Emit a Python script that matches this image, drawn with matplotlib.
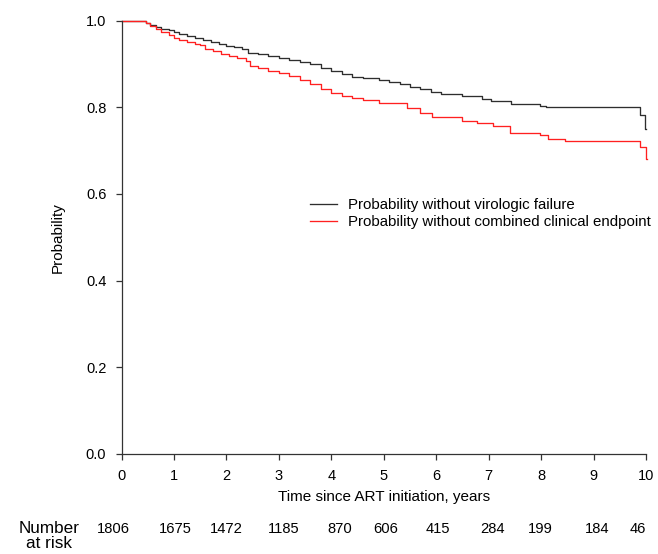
import matplotlib
matplotlib.use("Agg")
import matplotlib.pyplot as plt

plt.rcParams['font.family'] = ['Liberation Sans', 'DejaVu Sans']

# Kaplan-Meier curves (time in years, probability)
vf_time = [0, 0.46, 0.55, 0.65, 0.75, 0.9, 1.0, 1.1, 1.25, 1.4, 1.55, 1.7, 1.85,
           2.0, 2.15, 2.3, 2.42, 2.6, 2.8, 3.0, 3.2, 3.4, 3.6, 3.8, 4.0, 4.2,
           4.4, 4.6, 4.9, 5.1, 5.3, 5.5, 5.7, 5.9, 6.1, 6.5, 6.88, 7.05, 7.42,
           7.98, 8.1, 9.89, 9.99, 10.0]
vf_prob = [1.0, 0.995, 0.99, 0.986, 0.982, 0.978, 0.973, 0.969, 0.965, 0.960,
           0.955, 0.951, 0.946, 0.942, 0.939, 0.935, 0.926, 0.922, 0.918,
           0.913, 0.909, 0.905, 0.899, 0.891, 0.883, 0.876, 0.870, 0.868,
           0.862, 0.858, 0.854, 0.848, 0.842, 0.836, 0.831, 0.825, 0.819,
           0.815, 0.807, 0.804, 0.800, 0.782, 0.751, 0.751]

cc_time = [0, 0.46, 0.55, 0.65, 0.75, 0.9, 1.0, 1.1, 1.25, 1.4, 1.5, 1.6, 1.75,
           1.9, 2.05, 2.2, 2.38, 2.45, 2.6, 2.8, 3.0, 3.2, 3.4, 3.6, 3.8, 4.0,
           4.2, 4.4, 4.6, 4.9, 5.34, 5.44, 5.7, 5.92, 6.49, 6.77, 7.09, 7.41,
           7.98, 8.13, 8.46, 9.89, 10.0, 10.01]
cc_prob = [1.0, 0.994, 0.987, 0.981, 0.975, 0.966, 0.960, 0.955, 0.951, 0.946,
           0.943, 0.934, 0.929, 0.924, 0.919, 0.914, 0.908, 0.896, 0.891,
           0.885, 0.879, 0.872, 0.864, 0.853, 0.842, 0.833, 0.826, 0.821,
           0.817, 0.811, 0.809, 0.798, 0.788, 0.778, 0.768, 0.763, 0.758,
           0.741, 0.736, 0.727, 0.723, 0.709, 0.680, 0.680]

years = list(range(11))
at_risk = [1806, 1675, 1472, 1185, 870, 606, 415, 284, 199, 184, 46]
# where the at-risk numbers sit along the time axis
risk_pos = [-0.15, 1.03, 2.0, 3.1, 4.17, 5.03, 6.03, 7.07, 7.99, 9.07, 9.85]

fig = plt.figure(figsize=(6.58, 5.54), dpi=100)
ax = fig.add_axes([0.1847, 0.181, 0.7971, 0.7816])

ax.step(vf_time, vf_prob, where='post', color='#2e2e2e', lw=0.95,
        clip_on=False, label='Probability without virologic failure')
ax.step(cc_time, cc_prob, where='post', color='#ff2020', lw=0.95,
        clip_on=False, label='Probability without combined clinical endpoint')

ax.set_xlim(0, 10)
ax.set_ylim(0, 1)
ax.set_xticks(years)
ax.set_yticks([0, 0.2, 0.4, 0.6, 0.8, 1.0])
ax.set_yticklabels(['0.0', '0.2', '0.4', '0.6', '0.8', '1.0'])
for s in ['top', 'right']:
    ax.spines[s].set_visible(False)
for s in ['left', 'bottom']:
    ax.spines[s].set_color('#333333')
    ax.spines[s].set_linewidth(0.9)
ax.tick_params(direction='out', length=4.5, width=0.9, color='#333333',
               labelsize=10.5, pad=6.5)

ax.set_xlabel('Time since ART initiation, years', fontsize=11)
ax.xaxis.set_label_coords(0.5, -0.083)
ax.set_ylabel('Probability', fontsize=11)
ax.yaxis.set_label_coords(-0.108, 0.5)

ax.legend(loc='upper left', bbox_to_anchor=(310 / 658, 1 - 198.5 / 554),
          bbox_transform=fig.transFigure, frameon=False, fontsize=10.8,
          handlelength=1.8, handletextpad=0.7, labelspacing=0.16,
          borderpad=0, borderaxespad=0)

trans = ax.get_xaxis_transform()
for x, n in zip(risk_pos, at_risk):
    ax.text(x, -0.174, str(n), transform=trans, ha='center', va='center',
            fontsize=10.6, clip_on=False)
ax.text(-1.38, -0.19, 'Number\nat risk', transform=trans, ha='center',
        va='center', fontsize=12.3, linespacing=0.95, clip_on=False)

fig.savefig('out.png', dpi=100)
